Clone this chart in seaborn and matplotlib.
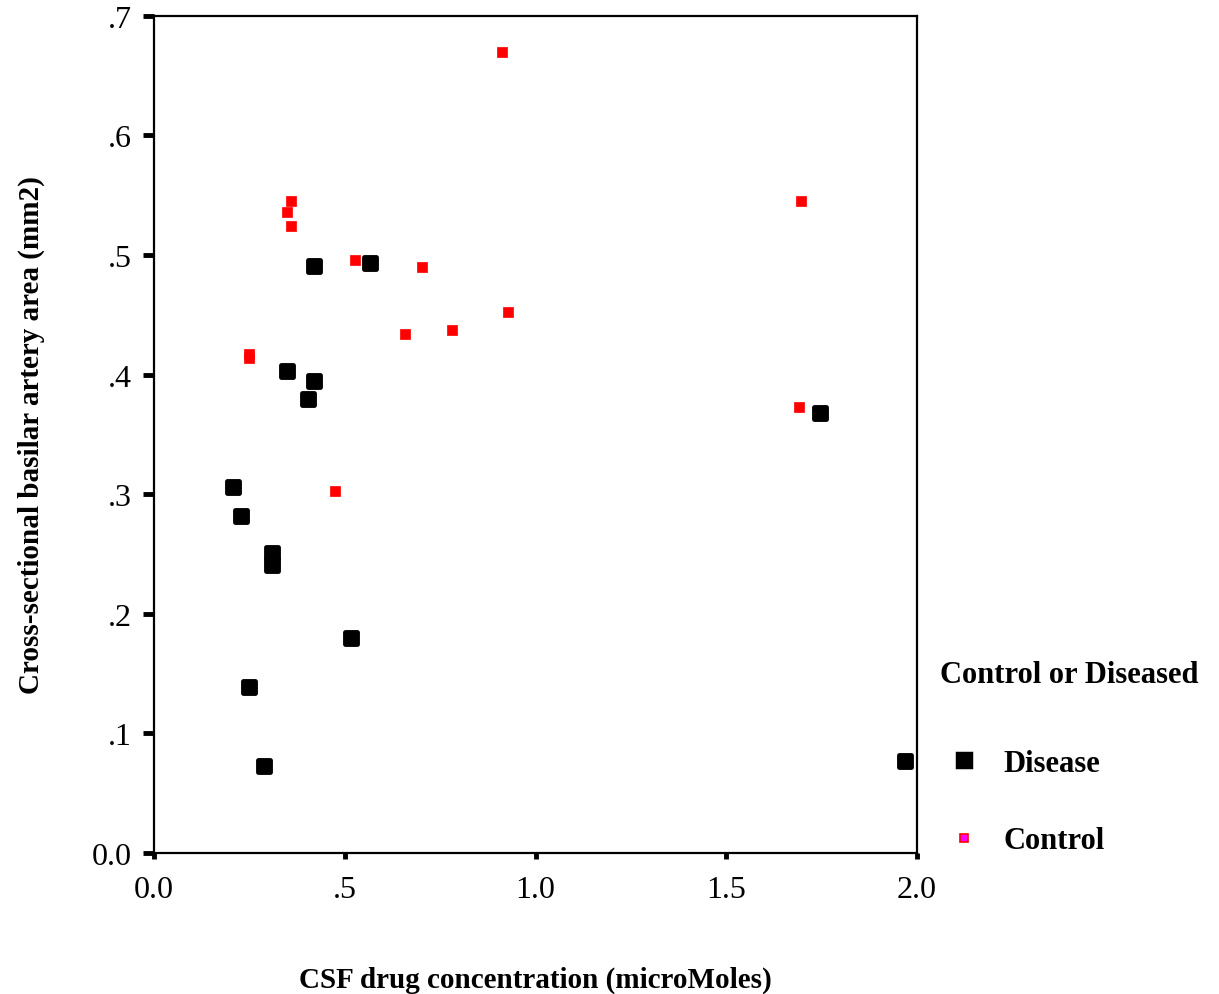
import numpy as np
import pandas as pd
import matplotlib
matplotlib.use("Agg")
import matplotlib.pyplot as plt
import seaborn as sns
from matplotlib.lines import Line2D

# valores
disease_x = [0.42, 0.567, 0.349, 0.42, 0.404, 1.745, 0.207, 0.228, 0.310, 0.310, 0.517, 0.249, 0.289, 1.969]
disease_y = [0.491, 0.493, 0.403, 0.395, 0.380, 0.368, 0.306, 0.282, 0.251, 0.241, 0.180, 0.139, 0.073, 0.077]
control_x = [0.911, 0.360, 0.349, 0.360, 0.528, 0.703, 0.659, 0.780, 0.927, 0.249, 0.249, 0.475, 1.696, 1.690]
control_y = [0.670, 0.545, 0.536, 0.524, 0.496, 0.490, 0.434, 0.437, 0.452, 0.417, 0.414, 0.303, 0.545, 0.373]
groups = ["Disease", "Control"]
x_ticks = [0.0, 0.5, 1.0, 1.5, 2.0]
x_ticklabels = ["0.0", ".5", "1.0", "1.5", "2.0"]
y_ticks = [0.0, 0.1, 0.2, 0.3, 0.4, 0.5, 0.6, 0.7]
y_ticklabels = ["0.0", ".1", ".2", ".3", ".4", ".5", ".6", ".7"]

df = pd.concat([
    pd.DataFrame({"x": disease_x, "y": disease_y, "grupo": "Disease"}),
    pd.DataFrame({"x": control_x, "y": control_y, "grupo": "Control"}),
])

sns.set_style("white")
plt.rcParams['font.family'] = ['Liberation Serif', 'DejaVu Serif']
plt.rcParams['text.color'] = 'black'
plt.rcParams['axes.labelcolor'] = 'black'
plt.rcParams['xtick.color'] = 'black'
plt.rcParams['ytick.color'] = 'black'

fig = plt.figure(figsize=(12.19, 9.95), dpi=100)
ax = fig.add_axes([0.1263, 0.1417, 0.626, 0.8413])

sns.scatterplot(data=df[df.grupo == "Disease"], x="x", y="y", ax=ax, marker="s",
                color="black", edgecolor="black", linewidth=3.5, joinstyle="round",
                s=85, legend=False, zorder=3)
sns.scatterplot(data=df[df.grupo == "Control"], x="x", y="y", ax=ax, marker="s",
                color="#ff0000", edgecolor="#ff0000", linewidth=0.5, s=45, legend=False, zorder=4)

ax.set_xlim(0, 2.0)
ax.set_ylim(0, 0.7)
ax.set_xticks(x_ticks)
ax.set_xticklabels(x_ticklabels)
ax.set_yticks(y_ticks)
ax.set_yticklabels(y_ticklabels)
ax.tick_params(axis="both", direction="out", labelsize=23, colors="black", left=True, bottom=True)
ax.tick_params(axis="y", length=8, width=3.5, pad=8)
ax.tick_params(axis="x", length=4, width=3.5, pad=12)
for sp in ax.spines.values():
    sp.set_visible(True)
    sp.set_color("black")
    sp.set_linewidth(1.6)

ax.set_xlabel("CSF drug concentration (microMoles)", fontsize=21, fontweight="bold", labelpad=44)
ax.set_ylabel("Cross-sectional basilar artery area (mm2)", fontsize=21, fontweight="bold", labelpad=34)

# leyenda: titulo aparte para controlar los espacios
fig.text(0.771, 0.3216, "Control or Diseased", fontsize=22, fontweight="bold", ha="left", va="center")
handles = [
    Line2D([], [], marker="s", linestyle="", markersize=10, markerfacecolor="black",
           markeredgecolor="black", markeredgewidth=2.5),
    Line2D([], [], marker="s", linestyle="", markersize=6, markerfacecolor="#ff00ff",
           markeredgecolor="#ff0000", markeredgewidth=1.2),
]
leg = fig.legend(handles, groups, loc="center left",
                 bbox_to_anchor=(0.753, 0.193), frameon=False, labelspacing=1.6,
                 handletextpad=0.7, handlelength=1.2, prop={"size": 22, "weight": "bold"})

fig.savefig("out.png", dpi=100)
